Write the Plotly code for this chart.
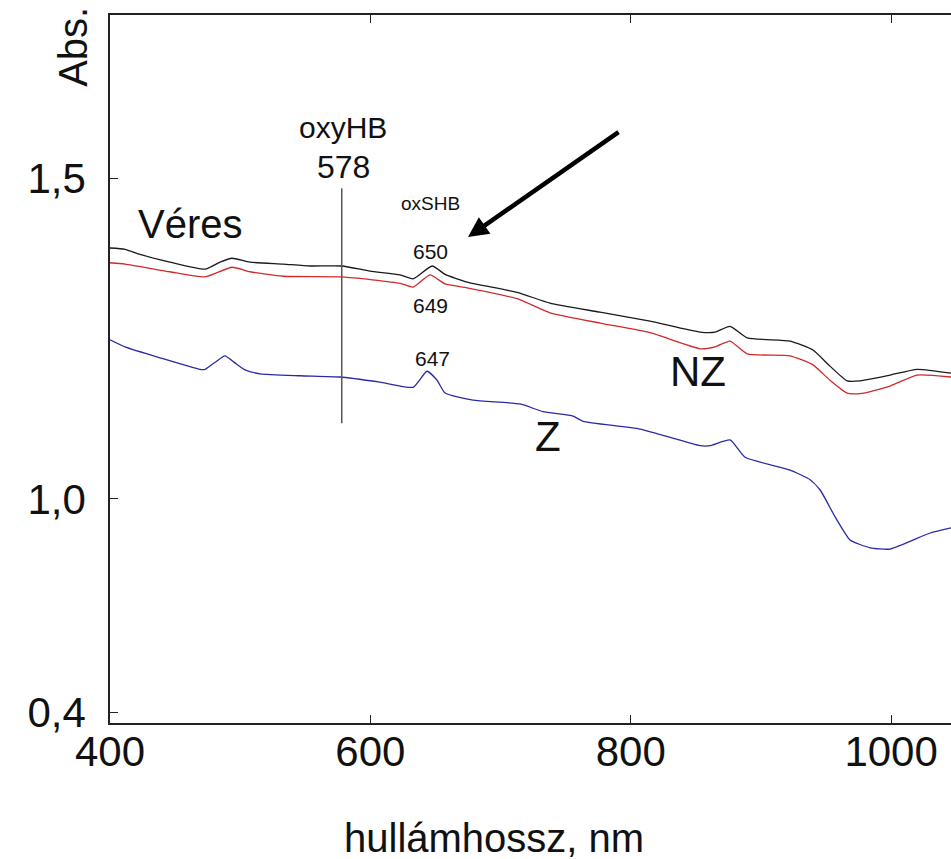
import plotly.graph_objects as go

# Wavelengths (nm) and absorbance readings
veres_nm = [400, 411.5, 423, 446, 473, 484.5, 493.7, 507.5, 533, 553.6, 578.2, 599.7, 622.8, 632.8, 647.4,
            657.4, 674.3, 712.7, 738, 776.4, 814.8, 853.3, 864.8, 876.3, 889.4, 922.4, 940, 953, 966.2,
            976.2, 999.2, 1020, 1046]
veres_abs = [1.391, 1.389, 1.381, 1.369, 1.358, 1.369, 1.375, 1.369, 1.366, 1.363, 1.363, 1.355, 1.349, 1.343,
             1.363, 1.350, 1.338, 1.322, 1.305, 1.291, 1.277, 1.260, 1.260, 1.269, 1.251, 1.246, 1.232, 1.207,
             1.184, 1.184, 1.193, 1.202, 1.196]

nz_nm = [400, 411.5, 446, 473, 493.7, 507.5, 533, 578.2, 622.8, 632.8, 645.8, 657.4, 674.3, 712.7, 738,
         776.4, 814.8, 853.3, 864.8, 876.3, 889.4, 922.4, 940, 953, 966.2, 976.2, 999.2, 1020, 1046]
nz_abs = [1.368, 1.366, 1.354, 1.346, 1.361, 1.354, 1.347, 1.346, 1.336, 1.330, 1.349, 1.335, 1.329, 1.312,
          1.290, 1.274, 1.259, 1.234, 1.237, 1.246, 1.226, 1.223, 1.209, 1.185, 1.165, 1.164, 1.176, 1.193, 1.190]

z_nm = [400, 411.5, 438.4, 469.1, 473, 480.7, 488.3, 496, 503.7, 515.2, 546, 576.7, 607.4, 632.8, 643.5,
        651.2, 657.4, 678.9, 715, 732.6, 755.7, 763.4, 807.2, 853.3, 860.9, 876.3, 887.8, 922.4, 937.8,
        945.5, 957, 968.5, 983.9, 999.2, 1030, 1046]
z_abs = [1.248, 1.237, 1.220, 1.202, 1.202, 1.213, 1.223, 1.212, 1.201, 1.195, 1.192, 1.190, 1.182, 1.174,
         1.199, 1.185, 1.165, 1.154, 1.148, 1.136, 1.129, 1.121, 1.109, 1.083, 1.083, 1.092, 1.065, 1.045,
         1.030, 1.014, 0.972, 0.936, 0.924, 0.922, 0.947, 0.955]

oxyhb_nm = [578, 578]
oxyhb_abs = [1.118, 1.484]

x_ticks = [400, 600, 800, 1000]
y_tickvals = [0.668, 1.0, 1.5]
y_ticktext = ["0,4", "1,0", "1,5"]

BIG = "Liberation Sans, Arial, sans-serif"
SMALL = "Liberation Sans, Arial, sans-serif"
INK = "#111111"

fig = go.Figure()
for xs, ys, col in [(veres_nm, veres_abs, "#1a1a1a"), (nz_nm, nz_abs, "#d02a2a"), (z_nm, z_abs, "#2a2aa8")]:
    fig.add_trace(go.Scatter(x=xs, y=ys, mode="lines",
                             line=dict(color=col, width=1.3, shape="spline", smoothing=0.5),
                             showlegend=False, hoverinfo="skip"))
fig.add_trace(go.Scatter(x=oxyhb_nm, y=oxyhb_abs, mode="lines", line=dict(color="#555555", width=1.5),
                         showlegend=False, hoverinfo="skip"))

def label(text, x, y, size, family=BIG):
    fig.add_annotation(x=x, y=y, text=text, showarrow=False, xanchor="center", yanchor="middle",
                       font=dict(family=family, size=size, color=INK))

label("Véres", 461.5, 1.428, 40)
label("oxyHB", 579, 1.579, 30, SMALL)
label("578", 579, 1.517, 32, SMALL)
label("oxSHB", 646, 1.461, 19, SMALL)
label("650", 646, 1.386, 21, SMALL)
label("649", 646, 1.302, 21, SMALL)
label("647", 647.4, 1.2196, 21, SMALL)
label("NZ", 851.7, 1.199, 42)
label("Z", 736.5, 1.0966, 42)

fig.add_annotation(x=675, y=1.408, ax=152, ay=-106, text="", showarrow=True, arrowhead=2,
                   arrowsize=0.9, arrowwidth=4.5, arrowcolor="#000000")

# axis titles
fig.add_annotation(xref="paper", yref="paper", x=-0.044, y=0.955, text="Abs.", textangle=-90,
                   showarrow=False, xanchor="center", yanchor="middle",
                   font=dict(family=BIG, size=40, color=INK))
fig.add_annotation(xref="paper", yref="paper", x=0.4566, y=-0.162, text="hullámhossz, nm",
                   showarrow=False, xanchor="center", yanchor="middle",
                   font=dict(family=BIG, size=40, color=INK))

fig.update_layout(
    width=951, height=859,
    margin=dict(l=110, r=0, t=15, b=136),
    paper_bgcolor="white", plot_bgcolor="white",
    xaxis=dict(range=[400, 1046], tickvals=x_ticks, ticktext=[str(v) for v in x_ticks],
               showgrid=False, zeroline=False, showline=True, linecolor="#222222", linewidth=1.6,
               mirror="ticks", ticks="inside", ticklen=8, tickcolor="#222222", tickwidth=1.4,
               tickfont=dict(family=BIG, size=42, color=INK), ticklabelstandoff=-9),
    yaxis=dict(range=[0.651, 1.754], tickvals=y_tickvals, ticktext=y_ticktext,
               showgrid=False, zeroline=False, showline=True, linecolor="#222222", linewidth=1.6,
               ticks="inside", ticklen=8, tickcolor="#222222", tickwidth=1.4,
               tickfont=dict(family=BIG, size=42, color=INK), ticklabelstandoff=14),
)

fig.write_html("out.html", config={"displayModeBar": False},
               post_script="document.body.style.margin='0';document.body.style.overflow='hidden';")
